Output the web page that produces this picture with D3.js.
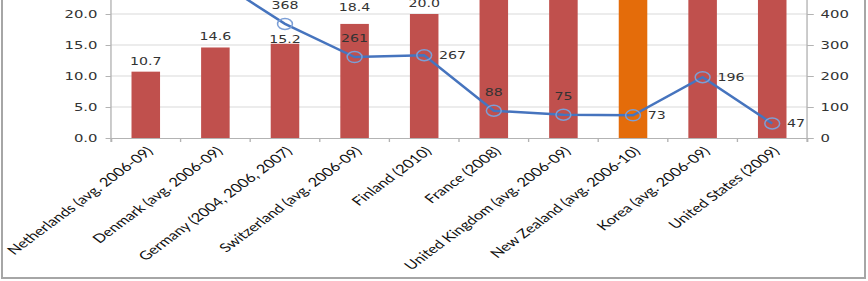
<!DOCTYPE html>
<html>
<head>
<meta charset="utf-8">
<script src="https://d3js.org/d3.v7.min.js"></script>
<style>
  body { margin: 0; background: #fff; }
  svg { display: block; }
</style>
</head>
<body>
<div id="chart"></div>
<script>
// categories and values (bars above ~22 are cut off at the top)
const countries = [
  "Netherlands (avg. 2006-09)",
  "Denmark (avg. 2006-09)",
  "Germany (2004, 2006, 2007)",
  "Switzerland (avg. 2006-09)",
  "Finland (2010)",
  "France (2008)",
  "United Kingdom (avg. 2006-09)",
  "New Zealand (avg. 2006-10)",
  "Korea (avg. 2006-09)",
  "United States (2009)"
];
const barValues = [10.7, 14.6, 15.2, 18.4, 20.0, 25.6, 27.0, 29.1, 33.0, 38.0];
const lineValues = [560, 513, 368, 261, 267, 88, 75, 73, 196, 47];
const highlighted = "New Zealand (avg. 2006-10)";
const leftTicks = [0, 5, 10, 15, 20];
const rightTicks = [0, 100, 200, 300, 400];

// where each line label sits relative to its marker
const lineLabelSide = ["above", "above", "above", "above", "right", "above", "above", "right", "right", "right"];
// small manual nudges of the bar labels, like the hand-placed ones in the original
const barLabelNudge = [0, 0, 6, -6, 0, 0, 0, 0, 0, 0];

const fullW = 868, fullH = 281;
const sx = 1.35;                 // the picture is stretched sideways
const left = 82.2, right = 597.8;
const y0 = 138;

const svg = d3.select("#chart").append("svg")
  .attr("width", fullW)
  .attr("height", fullH);

const g = svg.append("g").attr("transform", `scale(${sx},1)`);

const x = d3.scaleBand().domain(countries).range([left, right]).padding(0);
const yL = d3.scaleLinear().domain([0, 25]).range([y0, y0 - 25 * 6.2]);
const yR = d3.scaleLinear().domain([0, 500]).range([y0, y0 - 25 * 6.2]);
const barW = x.bandwidth() * 0.41;

// gridlines
g.selectAll(".grid").data(leftTicks.slice(1)).join("line")
  .attr("x1", left).attr("x2", right)
  .attr("y1", d => yL(d)).attr("y2", d => yL(d))
  .attr("stroke", "#d9d9d9").attr("stroke-width", 1);

// bars
g.selectAll(".bar").data(countries).join("rect")
  .attr("x", d => x(d) + (x.bandwidth() - barW) / 2)
  .attr("width", barW)
  .attr("y", (d, i) => yL(barValues[i]))
  .attr("height", (d, i) => y0 - yL(barValues[i]))
  .attr("fill", d => d === highlighted ? "#E46C0A" : "#C0504D");

// axes
const axisCol = "#b3b3b3";
const gl = g.append("g").attr("transform", `translate(${left},0)`)
  .call(d3.axisLeft(yL).tickValues(leftTicks).tickSize(4).tickFormat(d3.format(".1f")));
const gr = g.append("g").attr("transform", `translate(${right},0)`)
  .call(d3.axisRight(yR).tickValues(rightTicks).tickSize(5));
[gl, gr].forEach(a => {
  a.select(".domain").attr("stroke", axisCol);
  a.selectAll(".tick line").attr("stroke", axisCol);
  a.selectAll(".tick text")
    .attr("font-family", "'DejaVu Sans', Verdana, sans-serif")
    .attr("font-size", 11)
    .attr("fill", "#333");
});
gl.selectAll(".tick text").attr("x", -10);
gr.selectAll(".tick text").attr("x", 10);
gl.select(".domain").attr("d", `M0,${y0}V-20`);
gr.select(".domain").attr("d", `M0,${y0}V-20`);

// category axis
const gx = g.append("g").attr("transform", `translate(0,${y0})`)
  .call(d3.axisBottom(x).tickSize(4).tickFormat(""));
gx.select(".domain").attr("stroke", axisCol);
gx.selectAll(".tick").attr("transform", d => `translate(${x(d)},0)`);
gx.selectAll(".tick line").attr("stroke", axisCol);
gx.append("line").attr("x1", right).attr("x2", right).attr("y1", 0).attr("y2", 4).attr("stroke", axisCol);

g.selectAll(".cat").data(countries).join("text")
  .attr("transform", d => `translate(${x(d) + x.bandwidth() / 2 + 3},${y0 + 11}) rotate(-45)`)
  .attr("text-anchor", "end")
  .attr("dy", "0.35em")
  .attr("font-family", "Lato, 'Open Sans', sans-serif")
  .attr("font-size", 12.2)
  .attr("fill", "#111")
  .text(d => d);

// bar labels
g.selectAll(".barlab").data(countries).join("text")
  .attr("x", d => x(d) + x.bandwidth() / 2)
  .attr("y", (d, i) => yL(barValues[i]) - 7 + barLabelNudge[i])
  .attr("text-anchor", "middle")
  .attr("font-family", "'DejaVu Sans', Verdana, sans-serif")
  .attr("font-size", 10.5)
  .attr("fill", "#333")
  .text((d, i) => barValues[i].toFixed(1));

// line with hollow markers
const line = d3.line()
  .x(d => x(d) + x.bandwidth() / 2)
  .y((d, i) => yR(lineValues[i]));
g.append("path").datum(countries)
  .attr("d", line)
  .attr("fill", "none")
  .attr("stroke", "#4674BE")
  .attr("stroke-width", 2.5)
  .attr("vector-effect", "non-scaling-stroke");

g.selectAll(".mk").data(countries).join("circle")
  .attr("cx", d => x(d) + x.bandwidth() / 2)
  .attr("cy", (d, i) => yR(lineValues[i]))
  .attr("r", 5.5)
  .attr("fill", "none")
  .attr("stroke", "#7C9FD6")
  .attr("stroke-width", 1.5)
  .attr("vector-effect", "non-scaling-stroke");

g.selectAll(".linelab").data(countries).join("text")
  .attr("x", (d, i) => x(d) + x.bandwidth() / 2 + (lineLabelSide[i] === "right" ? 11 : 0))
  .attr("y", (d, i) => yR(lineValues[i]) + (lineLabelSide[i] === "right" ? 4 : -15))
  .attr("text-anchor", (d, i) => lineLabelSide[i] === "right" ? "start" : "middle")
  .attr("font-family", "'DejaVu Sans', Verdana, sans-serif")
  .attr("font-size", 10.5)
  .attr("fill", "#333")
  .text((d, i) => lineValues[i]);

// frame of the chart area
const frame = svg.append("g").attr("stroke", "#a6a6a6").attr("stroke-width", 2);
frame.append("line").attr("x1", 2).attr("x2", 2).attr("y1", 0).attr("y2", 279);
frame.append("line").attr("x1", 865).attr("x2", 865).attr("y1", 0).attr("y2", 279);
frame.append("line").attr("x1", 1).attr("x2", 866).attr("y1", 278).attr("y2", 278);
</script>
</body>
</html>
